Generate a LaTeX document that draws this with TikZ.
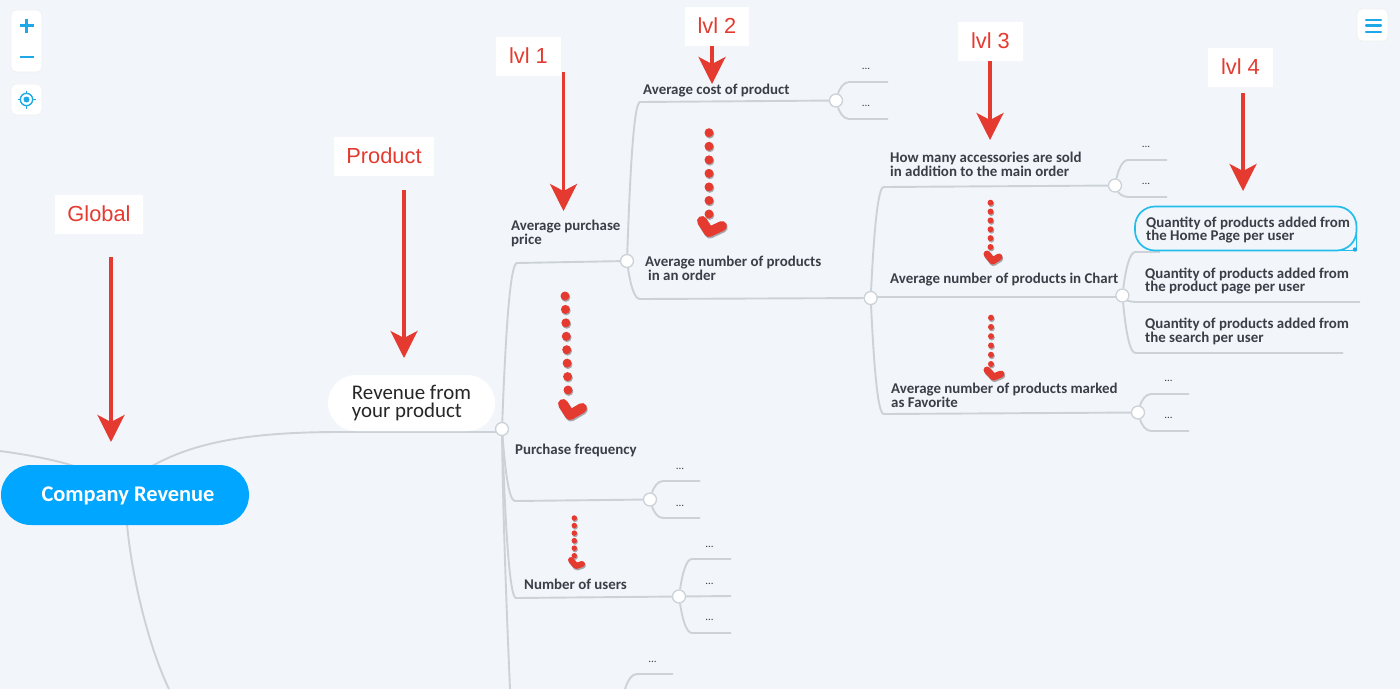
\documentclass[tikz,border=0pt]{standalone}
\usepackage{fontspec}
\usetikzlibrary{calc,arrows.meta}
\newfontfamily\cf{Carlito}
\newfontfamily\hf{Liberation Sans}
\definecolor{pagebg}{HTML}{F2F6FB}
\definecolor{linegray}{HTML}{CCD2D8}
\definecolor{redmark}{HTML}{E43A2F}
\definecolor{inktext}{HTML}{3A3E46}
\definecolor{rootblue}{HTML}{00A6FF}
\definecolor{uiblue}{HTML}{1FA8E8}
\definecolor{selblue}{HTML}{22BDEB}
\definecolor{dotshadow}{HTML}{A8A8AC}
\pgfdeclarelayer{connlayer}
\pgfsetlayers{connlayer,main}
\tikzset{
  conn/.style={draw=linegray,line width=1.9pt},
  junction/.style={circle,fill=white,draw=linegray,line width=1.3pt,minimum size=13pt,inner sep=0pt},
  topic/.style={anchor=west,align=left,inner sep=0pt,text=inktext,font=\cf\bfseries\fontsize{14.9}{13.9}\selectfont},
  more/.style={inner sep=0pt,text=inktext,font=\cf\fontsize{11}{11}\selectfont},
  tag/.style={fill=white,inner sep=0pt,minimum height=39pt,text height=16pt,text depth=2pt,text=redmark,font=\hf\fontsize{21.8}{22}\selectfont},
  bigarrow/.style={draw=redmark,line width=3.6pt,-{Stealth[length=27pt,width=27pt,inset=7pt]}},
  uibtn/.style={fill=white,draw=black!6,line width=.8pt,rounded corners=5pt,inner sep=0pt},
  uimark/.style={draw=uiblue,line width=2.6pt}
}
% elbow connector: start, corner offset dx dy, end
\newcommand{\elbow}[4]{\draw[conn] (#1) .. controls ($(#1)+({0.25*#2},{0.6*#3})$) and ($(#1)+({0.55*#2},#3)$) .. ($(#1)+(#2,#3)$) -- (#4);}
% hand-drawn dotted arrow: top, bottom, dots, dot size, tip width, left, corner, right
\newcommand{\dotarrow}[8]{%
  \foreach \i in {0,...,\numexpr#3-1\relax}{
    \pgfmathsetmacro{\t}{\i/(#3-1)}
    \fill[dotshadow] ($(#1)!\t!(#2)+(.8,1.4)$) circle ({#4/2});
  }
  \draw[dotshadow,line width=#5pt,line cap=round,line join=round] ($(#6)+(.8,1.6)$) -- ($(#7)+(.8,1.6)$) -- ($(#8)+(.8,1.6)$);
  \foreach \i in {0,...,\numexpr#3-1\relax}{
    \pgfmathsetmacro{\t}{\i/(#3-1)}
    \fill[redmark] ($(#1)!\t!(#2)$) circle ({#4/2});
  }
  \draw[redmark,line width=#5pt,line cap=round,line join=round] (#6) -- (#7) -- (#8);
}
\begin{document}
\begin{tikzpicture}[x=1pt,y=-1pt]
\useasboundingbox (0,0) rectangle (1400,689);
\clip (0,0) rectangle (1400,689);

% nodes of the map
\node[fill=rootblue,rounded corners=30pt,minimum width=248pt,minimum height=60pt,inner sep=0pt,text height=17pt,text depth=4.4pt,text=white,font=\cf\bfseries\fontsize{22.4}{22}\selectfont] (root) at (125,495) {\hspace*{6pt}Company Revenue};
\node[fill=white,rounded corners=28pt,minimum width=167pt,minimum height=56pt,inner sep=0pt,align=left,text=black!85,font=\cf\fontsize{20.9}{18}\selectfont] (rev) at (411.5,403) {Revenue from\\your product};

\node[junction] (j0) at (502,429) {};
\node[junction] (j1) at (627,261) {};
\node[junction] (jcost) at (836,100.5) {};
\node[junction] (jnum) at (870.7,298) {};
\node[junction] (jacc) at (1115,185.5) {};
\node[junction] (jchart) at (1122.4,295.5) {};
\node[junction] (jfav) at (1138,412.5) {};
\node[junction] (jfreq) at (650,499.5) {};
\node[junction] (jusers) at (679,596.5) {};

\node[topic] (t1) at (511,233) {Average purchase\\price};
\node[topic] (t2) at (643,91) {Average cost of product};
\node[topic] (t3) at (645,268) {Average number of products\\\hspace*{3pt}in an order};
\node[topic] (t4) at (890,164) {How many accessories are sold\\in addition to the main order};
\node[topic] (t5) at (890,280) {Average number of products in Chart};
\node[topic] (t6) at (891,395) {Average number of products marked\\as Favorite};
\node[topic] (q1) at (1146,230) {Quantity of products added from\\the Home Page per user};
\node[topic] (q2) at (1145,281) {Quantity of products added from\\the product page per user};
\node[topic] (q3) at (1145,331) {Quantity of products added from\\the search per user};
\node[topic] (t7) at (515,450) {Purchase frequency};
\node[topic] (t8) at (524,584) {Number of users};

% free ends
\coordinate (off1) at (0,451);
\coordinate (rootL) at (74,466);
\coordinate (rootR) at (152,466);
\coordinate (rootB) at (127,524);
\coordinate (off2) at (169,689);
\coordinate (off3) at (510,689);
\coordinate (off4) at (625,689);
\coordinate (e1) at (888,82);
\coordinate (e2) at (888,119);
\coordinate (e3) at (1167,160);
\coordinate (e4) at (1167,197);
\coordinate (e5) at (1189,394);
\coordinate (e6) at (1189,431);
\coordinate (e7) at (1360,302);
\coordinate (e8) at (1343,353);
\coordinate (e9) at (1160,252);
\coordinate (e10) at (700,481);
\coordinate (e11) at (700,518);
\coordinate (e12) at (731,559);
\coordinate (e13) at (731,596);
\coordinate (e14) at (731,633);
\coordinate (e15) at (673,674);

\begin{pgfonlayer}{connlayer}
\fill[pagebg] (0,0) rectangle (1400,689);
\draw[conn] (off1) .. controls (30,455) and (55,460) .. (rootL);
\draw[conn] (rootR) .. controls (195,442) and (250,432) .. (340,432) -- ($(j0)+(0,3)$);
\draw[conn] (rootB) .. controls (132,580) and (150,650) .. (off2);
\draw[conn] (j0) .. controls (503,520) and (507,620) .. (off3);
\elbow{j0}{15}{-166}{j1}
\elbow{j0}{13}{72}{jfreq}
\elbow{j0}{14}{169}{jusers}
\elbow{j1}{13}{-159}{jcost}
\elbow{j1}{13}{38}{jnum}
\elbow{jnum}{13}{-111}{jacc}
\elbow{jnum}{13}{116}{jfav}
\draw[conn] ($(jnum)+(0,-1)$) -- ($(jchart)+(0,1.5)$);
\elbow{jcost}{13}{-18.5}{e1}
\elbow{jcost}{13}{18.5}{e2}
\elbow{jacc}{13}{-25.5}{e3}
\elbow{jacc}{13}{11.5}{e4}
\elbow{jfav}{13}{-18.5}{e5}
\elbow{jfav}{13}{18.5}{e6}
\elbow{jchart}{13}{-43.5}{e9}
\elbow{jchart}{13}{6.5}{e7}
\elbow{jchart}{13}{57.5}{e8}
\elbow{jfreq}{13}{-18.5}{e10}
\elbow{jfreq}{13}{18.5}{e11}
\elbow{jusers}{13}{-37.5}{e12}
\draw[conn] (jusers) -- (e13);
\elbow{jusers}{13}{36.5}{e14}
\elbow{off4}{12}{-15}{e15}
\end{pgfonlayer}

% selected topic outline
\draw[selblue,line width=1.7pt,rounded corners=20pt] (1356.5,250.5) -- (1135,250.5) -- (1135,206.5) -- (1356.5,206.5) -- cycle;
\fill[selblue] (1340,249.65) rectangle (1356.4,251.35);
\draw[selblue,line width=1.7pt] (1356.5,228) -- (1356.5,250);
\fill[uiblue] (1355,249.5) circle (2.2);

% dots
\foreach \nm/\x/\y in {a/866/69,b/866/106,c/1146/147,d/1146/184,e/1168.5/381,f/1168.5/418,g/680/469,h/680/506,i/709.6/547,j/709.6/584,k/709.6/620,l/652.6/662}{
  \node[more] (more\nm) at (\x,\y) {...};
}

% level tags and arrows
\node[tag,minimum width=88pt] (global) at (99,214.5) {Global};
\node[tag,minimum width=100pt] (product) at (384,156.5) {Product};
\node[tag,minimum width=65pt] (lvl1) at (528.5,56.5) {lvl 1};
\node[tag,minimum width=64pt] (lvl2) at (717,26.5) {lvl 2};
\node[tag,minimum width=65pt] (lvl3) at (990.5,41.5) {lvl 3};
\node[tag,minimum width=65pt] (lvl4) at (1240.5,67.5) {lvl 4};
\coordinate (a1s) at (111,257); \coordinate (a1e) at (111,442);
\coordinate (a2s) at (404,190); \coordinate (a2e) at (404,358);
\coordinate (a3s) at (563.5,72); \coordinate (a3e) at (563.5,211);
\coordinate (a4s) at (712,46); \coordinate (a4e) at (712,84);
\coordinate (a5s) at (990,61); \coordinate (a5e) at (990,140);
\coordinate (a6s) at (1243,93); \coordinate (a6e) at (1243,191);
\draw[bigarrow] (a1s) -- (a1e);
\draw[bigarrow] (a2s) -- (a2e);
\draw[bigarrow] (a3s) -- (a3e);
\draw[bigarrow] (a4s) -- (a4e);
\draw[bigarrow] (a5s) -- (a5e);
\draw[bigarrow] (a6s) -- (a6e);

% dotted arrows
\dotarrow{709,132.7}{709,214}{7}{9}{10}{702,221}{709,232}{722,226}
\dotarrow{565,296}{568,390}{8}{9}{10}{563,404}{570,415}{582,408}
\dotarrow{990.5,202.7}{990.5,247}{6}{6}{7}{987,254}{992.6,261}{999,257}
\dotarrow{991,317.7}{991,364}{6}{6}{7}{987,370}{993.6,377}{1001,374}
\dotarrow{574.3,518}{574.3,555.7}{6}{5.5}{6}{571,560}{576,566}{582,564}

% interface buttons
\node[uibtn,minimum width=31pt,minimum height=62pt] (zoombtn) at (26.5,41) {};
\node[uibtn,minimum width=31pt,minimum height=31pt] (locbtn) at (26.5,99.5) {};
\node[uibtn,minimum width=31pt,minimum height=32pt] (menubtn) at (1372.5,25) {};
\draw[uimark] (19.5,25.5) -- (33.5,25.5) (26.5,18.5) -- (26.5,32.5);
\draw[uimark] (19.5,57) -- (33.5,57);
\draw[uiblue,line width=1.4pt] (26.5,99.5) circle (6.2);
\fill[uiblue] (26.5,99.5) circle (3);
\draw[uiblue,line width=1.2pt] (26.5,90.5) -- (26.5,93) (26.5,106) -- (26.5,108.5) (17.5,99.5) -- (20,99.5) (33,99.5) -- (35.5,99.5);
\draw[uiblue,line width=2.2pt,line cap=round] (1366,20) -- (1381,20) (1366,25.5) -- (1381,25.5) (1366,31.7) -- (1381,31.7);
\end{tikzpicture}
\end{document}
